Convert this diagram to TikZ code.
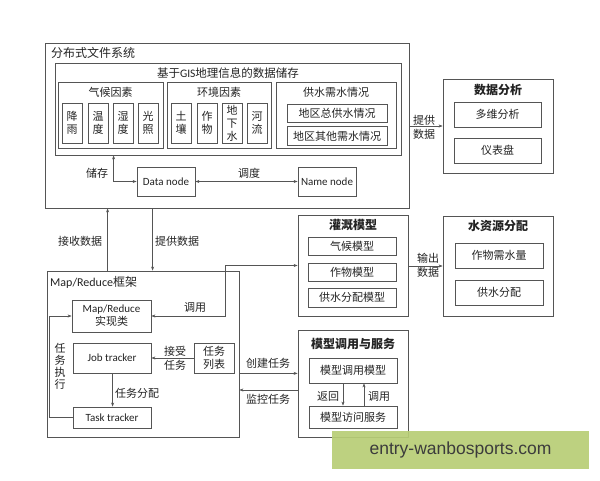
\documentclass[tikz,border=0pt]{standalone}
\usepackage{fontspec}
\setmainfont{Noto Sans CJK SC}
\newfontfamily\lat{Carlito}
\newfontfamily\wm{Liberation Sans}
\usetikzlibrary{arrows.meta}
\definecolor{ln}{RGB}{85,85,85}
\definecolor{tx}{RGB}{35,35,35}
\definecolor{wmg}{RGB}{184,206,118}
\tikzset{
  bx/.style={draw=ln, line width=0.8pt, inner sep=0pt, align=center, font=\fontsize{11}{13}\selectfont, text=tx},
  lbl/.style={inner sep=0pt, align=center, font=\fontsize{11}{14}\selectfont, text=tx},
  ttl/.style={inner sep=0pt, font=\fontsize{12}{14}\selectfont, text=tx},
  bttl/.style={inner sep=0pt, font=\fontsize{12}{14}\selectfont\bfseries, text=tx},
  ar/.style={draw=ln, line width=0.6pt, -{Stealth[length=4pt,width=3pt]}},
  dar/.style={draw=ln, line width=0.6pt, {Stealth[length=4pt,width=3pt]}-{Stealth[length=4pt,width=3pt]}},
}
\begin{document}
\begin{tikzpicture}[x=1pt,y=-1pt]
\fill[white] (0,0) rectangle (600,480);
\useasboundingbox (0,0) rectangle (600,480);

% ---- distributed file system
\node[bx, minimum width=364pt, minimum height=165pt] (dfs) at (227,125.5) {};
\node[ttl, anchor=west] (dfsT) at (51,53) {分布式文件系统};
\node[bx, minimum width=346pt, minimum height=92pt] (gis) at (228,109) {};
\node[lbl, font=\fontsize{11.5}{13}\selectfont] (gisT) at (228,73) {基于{\lat GIS}地理信息的数据储存};

\node[bx, minimum width=105pt, minimum height=66pt] (clim) at (110.5,115) {};
\node[lbl] (climT) at (110.5,92) {气候因素};
\node[bx, minimum width=20pt, minimum height=40pt] (c1) at (72,123) {降\\雨};
\node[bx, minimum width=20pt, minimum height=40pt] (c2) at (98,123) {温\\度};
\node[bx, minimum width=20pt, minimum height=40pt] (c3) at (123,123) {湿\\度};
\node[bx, minimum width=20pt, minimum height=40pt] (c4) at (148,123) {光\\照};

\node[bx, minimum width=104pt, minimum height=66pt] (env) at (219,115) {};
\node[lbl] (envT) at (219,92) {环境因素};
\node[bx, minimum width=20pt, minimum height=40pt] (e1) at (181,123) {土\\壤};
\node[bx, minimum width=20pt, minimum height=40pt] (e2) at (207,123) {作\\物};
\node[bx, minimum width=20pt, minimum height=40pt] (e3) at (232,123) {地\\下\\水};
\node[bx, minimum width=20pt, minimum height=40pt] (e4) at (257,123) {河\\流};

\node[bx, minimum width=120pt, minimum height=66pt] (sup) at (336,115) {};
\node[lbl] (supT) at (336,92) {供水需水情况};
\node[bx, minimum width=100pt, minimum height=18pt] (s1) at (337,113) {地区总供水情况};
\node[bx, minimum width=100pt, minimum height=19pt] (s2) at (337,136) {地区其他需水情况};

\node[bx, minimum width=58pt, minimum height=29pt] (dn) at (166,181.5) {\lat Data node};
\node[bx, minimum width=58pt, minimum height=29pt] (nn) at (327,181.5) {\lat Name node};
\draw[dar] (dn.west) -| ([xshift=59pt]gis.south west);
\node[lbl] (lcc) at (97,173) {储存};
\draw[dar] (dn.east) -- (nn.west);
\node[lbl] (ldd) at (249,173) {调度};

% ---- data analysis
\node[bx, minimum width=110pt, minimum height=94pt] (ana) at (498,126) {};
\node[bttl] (anaT) at (498,90) {数据分析};
\node[bx, minimum width=87pt, minimum height=25pt] (a1) at (497.5,114.5) {多维分析};
\node[bx, minimum width=87pt, minimum height=25pt] (a2) at (497.5,150.5) {仪表盘};
\draw[ar] (dfs.east |- ana.west) -- (ana.west);
\node[lbl] (ltg) at (424,127) {提供\\数据};

% ---- map reduce
\node[bx, minimum width=192pt, minimum height=166pt] (mr) at (143,354) {};
\node[ttl, anchor=west] (mrT) at (50,282) {{\lat Map/Reduce}框架};
\node[bx, minimum width=79pt, minimum height=32pt] (mri) at (111.5,316) {{\lat Map/Reduce}\\实现类};
\node[bx, minimum width=78pt, minimum height=30pt] (job) at (112,358) {\lat Job tracker};
\node[bx, minimum width=78pt, minimum height=21pt] (task) at (112,417.5) {\lat Task tracker};
\node[bx, minimum width=40pt, minimum height=30pt] (tl) at (214,358) {任务\\列表};

\draw[ar] ([xshift=61pt]mr.north west) coordinate (p1) -- (p1 |- dfs.south);
\node[lbl] (ljs) at (80,241) {接收数据};
\draw[ar] ([xshift=108pt]dfs.south west) coordinate (p2) -- (p2 |- mr.north);
\node[lbl] (ltd) at (177,241) {提供数据};

\draw[ar] (tl.west) -- (job.east);
\node[lbl] (ljr) at (175,358) {接受\\任务};
\draw[ar] ([xshift=40pt]job.south west) coordinate (p3) -- (p3 |- task.north);
\node[lbl] (lfp) at (137,393) {任务分配};
\draw[ar] (task.west) -- ++(-23,0) |- (mri.west);
\node[lbl, font=\fontsize{11}{12}\selectfont] (lzx) at (60,366) {任\\务\\执\\行};

% ---- irrigation model
\node[bx, minimum width=110pt, minimum height=101pt] (irr) at (353,265.5) {};
\node[bttl] (irrT) at (353,225) {灌溉模型};
\node[bx, minimum width=88pt, minimum height=18pt] (i1) at (352,246) {气候模型};
\node[bx, minimum width=88pt, minimum height=18pt] (i2) at (352,272) {作物模型};
\node[bx, minimum width=88pt, minimum height=19pt] (i3) at (352,297.5) {供水分配模型};
\draw[dar] (mri.east) -- ++(74,0) |- (irr.west);
\node[lbl] (ldy) at (195,307) {调用};

% ---- water allocation
\node[bx, minimum width=110pt, minimum height=100pt] (wat) at (498,266) {};
\node[bttl] (watT) at (498,226) {水资源分配};
\node[bx, minimum width=88pt, minimum height=25pt] (w1) at (499,255.5) {作物需水量};
\node[bx, minimum width=88pt, minimum height=25pt] (w2) at (499,292.5) {供水分配};
\draw[ar] (irr.east |- wat.west) -- (wat.west);
\node[lbl] (lsc) at (428,265) {输出\\数据};

% ---- model service
\node[bx, minimum width=110pt, minimum height=107pt] (svc) at (353,383.5) {};
\node[bttl] (svcT) at (353,344) {模型调用与服务};
\node[bx, minimum width=88pt, minimum height=25pt] (sv1) at (353,370.5) {模型调用模型};
\node[bx, minimum width=88pt, minimum height=22pt] (sv2) at (353,417) {模型访问服务};
\draw[ar] ([xshift=-10pt]sv1.south) coordinate (q1) -- (q1 |- sv2.north);
\node[lbl] (lfh) at (328,396) {返回};
\draw[ar] ([xshift=11pt]sv2.north) coordinate (q2) -- (q2 |- sv1.south);
\node[lbl] (ldy2) at (379,396) {调用};

\draw[ar] (mr.east |- tl.south) -- (svc.west |- tl.south);
\node[lbl] (lcj) at (268,363) {创建任务};
\draw[ar] ([yshift=-6.5pt]svc.west) coordinate (q3) -- (q3 -| mr.east);
\node[lbl] (ljk) at (268,399) {监控任务};

% ---- watermark
\node[fill=wmg, fill opacity=0.92, text opacity=1, minimum width=257pt, minimum height=38pt, inner sep=0pt,
      font=\wm\fontsize{17.5}{20}\selectfont, text={rgb,255:red,60;green,60;blue,60}] (wmk) at (460.5,450) {entry-wanbosports.com};
\end{tikzpicture}
\end{document}
